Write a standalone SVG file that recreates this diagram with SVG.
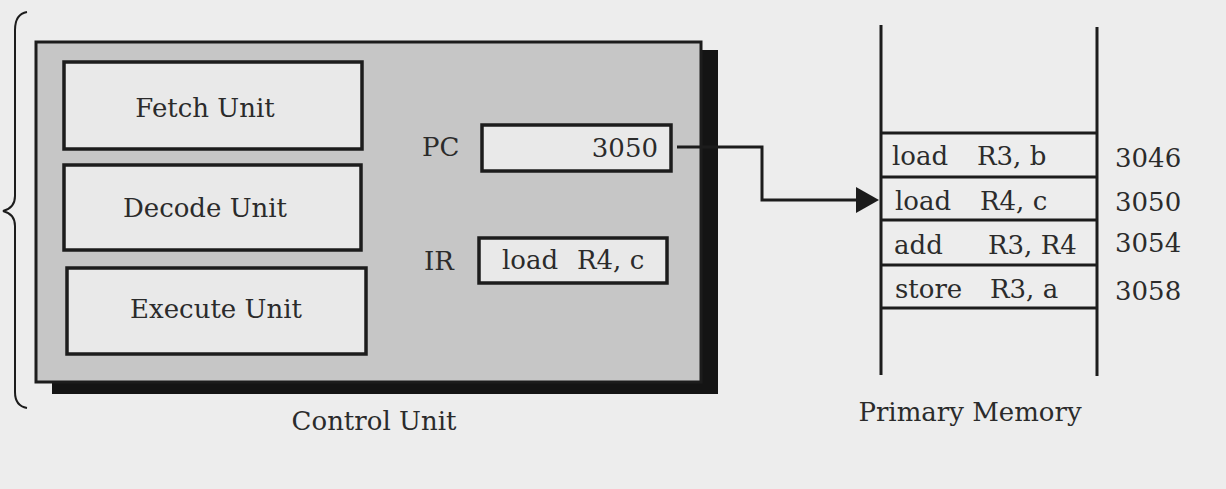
<svg xmlns="http://www.w3.org/2000/svg" width="1226" height="489" viewBox="0 0 1226 489">
<defs>
<style>
.t{font-family:"DejaVu Serif","Liberation Serif",serif;font-size:26px;fill:#2b2b2b}
.box{fill:#e9e9e9;stroke:#1c1c1c;stroke-width:3.5}
.ln{fill:none;stroke:#1c1c1c;stroke-width:3}
</style>
</defs>
<rect x="0" y="0" width="1226" height="489" fill="#ededed"/>
<path d="M27,12 Q15,14 15,30 L15,196 Q15,208 3,211 Q15,214 15,226 L15,392 Q15,406 27,408" fill="none" stroke="#1c1c1c" stroke-width="2"/>
<g id="control-unit">
<rect x="52" y="50" width="666" height="344" fill="#141414"/>
<rect x="36" y="42" width="665" height="340" fill="#c6c6c6" stroke="#1c1c1c" stroke-width="3"/>
<text class="t" x="374" y="430" text-anchor="middle" font-size="27">Control Unit</text>
</g>
<g id="fetch-unit">
<rect class="box" x="64" y="62" width="298" height="87"/>
<text class="t" x="205" y="117" text-anchor="middle">Fetch Unit</text>
</g>
<g id="decode-unit">
<rect class="box" x="64" y="165" width="297" height="85"/>
<text class="t" x="205" y="217" text-anchor="middle">Decode Unit</text>
</g>
<g id="execute-unit">
<rect class="box" x="67" y="268" width="299" height="86"/>
<text class="t" x="216" y="318" text-anchor="middle">Execute Unit</text>
</g>
<g id="pc">
<text class="t" x="422" y="156">PC</text>
<rect class="box" x="482" y="125" width="189" height="46"/>
<text class="t" x="658" y="157" text-anchor="end">3050</text>
</g>
<g id="ir">
<text class="t" x="424" y="270">IR</text>
<rect class="box" x="479" y="238" width="188" height="45"/>
<text class="t" y="269"><tspan x="502">load</tspan><tspan x="577">R4, c</tspan></text>
</g>
<g id="connectors">
<path class="ln" d="M677,147 H762 V200 H858"/>
<polygon points="856,187 879,200 856,213" fill="#1c1c1c"/>
</g>
<g id="primary-memory">
<line class="ln" x1="881" y1="25" x2="881" y2="375"/>
<line class="ln" x1="1097" y1="27" x2="1097" y2="376"/>
<line class="ln" x1="881" y1="133" x2="1097" y2="133"/>
<line class="ln" x1="881" y1="177" x2="1097" y2="177"/>
<line class="ln" x1="881" y1="220" x2="1097" y2="220"/>
<line class="ln" x1="881" y1="265" x2="1097" y2="265"/>
<line class="ln" x1="881" y1="308" x2="1097" y2="308"/>
<text class="t" y="165"><tspan x="892">load</tspan><tspan x="977">R3, b</tspan></text>
<text class="t" y="210"><tspan x="895">load</tspan><tspan x="980">R4, c</tspan></text>
<text class="t" y="254"><tspan x="894">add</tspan><tspan x="988">R3, R4</tspan></text>
<text class="t" y="298"><tspan x="895">store</tspan><tspan x="990">R3, a</tspan></text>
<text class="t" x="1115" y="167">3046</text>
<text class="t" x="1115" y="211">3050</text>
<text class="t" x="1115" y="252">3054</text>
<text class="t" x="1115" y="300">3058</text>
<text class="t" x="970" y="421" text-anchor="middle">Primary Memory</text>
</g>
</svg>
